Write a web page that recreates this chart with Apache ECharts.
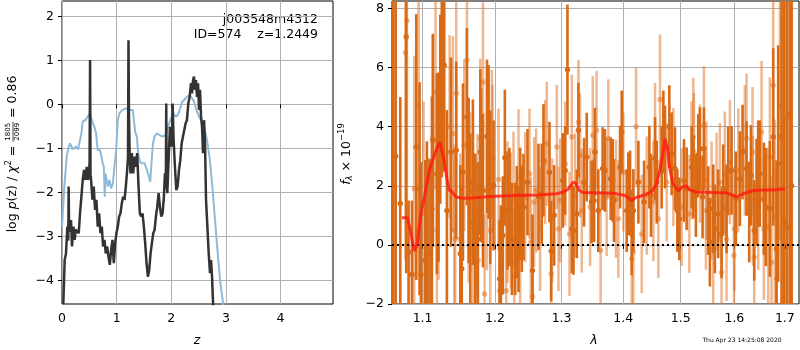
<!DOCTYPE html>
<html>
<head>
<meta charset="utf-8">
<script src="https://cdn.jsdelivr.net/npm/echarts@6/dist/echarts.min.js"></script>
<style>
  html, body { margin: 0; padding: 0; background: #fff; }
  #root { width: 800px; height: 350px; }
</style>
</head>
<body>
<div id="root"></div>
<script>
// p(z) curve (black) and chi2 curve (blue), [z, log value]
const pzPoints = [[0.024,-4.54],[0.049,-3.54],[0.073,-3.39],[0.098,-2.78],[0.115,-3.1],[0.122,-1.87],[0.130,-2.9],[0.141,-2.93],[0.155,-2.7],[0.165,-2.63],[0.183,-3.23],[0.208,-2.78],[0.232,-3.08],[0.250,-2.85],[0.269,-2.86],[0.306,-2.93],[0.330,-2.48],[0.355,-2.10],[0.379,-1.72],[0.404,-1.49],[0.428,-1.72],[0.453,-1.42],[0.477,-1.72],[0.495,-1.55],[0.505,-1.3],[0.514,1.01],[0.522,-1.6],[0.532,-1.72],[0.557,-2.17],[0.581,-1.87],[0.606,-2.40],[0.630,-2.17],[0.654,-2.78],[0.679,-2.48],[0.703,-2.93],[0.728,-2.78],[0.752,-3.23],[0.777,-3.08],[0.801,-3.39],[0.826,-3.23],[0.850,-3.46],[0.875,-3.65],[0.899,-3.31],[0.924,-3.08],[0.948,-3.61],[0.972,-3.16],[0.997,-2.93],[1.021,-2.78],[1.046,-2.55],[1.070,-2.48],[1.095,-2.25],[1.119,-2.10],[1.144,-2.17],[1.168,-1.87],[1.193,-1.49],[1.208,-1.2],[1.217,1.46],[1.226,-0.28],[1.240,-1.2],[1.254,-1.57],[1.278,-1.11],[1.303,-1.57],[1.327,-1.19],[1.352,-1.42],[1.376,-1.11],[1.401,-1.87],[1.425,-2.48],[1.450,-2.55],[1.474,-2.48],[1.498,-2.78],[1.523,-3.16],[1.547,-3.61],[1.572,-3.92],[1.596,-3.77],[1.621,-3.39],[1.645,-3.16],[1.670,-2.93],[1.694,-2.86],[1.719,-2.55],[1.743,-2.33],[1.768,-2.02],[1.792,-2.33],[1.817,-2.55],[1.841,-2.48],[1.865,-2.10],[1.884,-1.57],[1.900,-1.9],[1.908,0.02],[1.916,-1.8],[1.927,-2.02],[1.951,-1.27],[1.976,-0.51],[2.000,-0.96],[2.015,-0.6],[2.024,0.02],[2.043,-0.81],[2.067,-1.42],[2.092,-1.95],[2.116,-1.87],[2.141,-1.49],[2.165,-1.27],[2.190,-0.89],[2.214,-0.73],[2.239,-0.73],[2.263,-0.43],[2.287,-0.36],[2.312,0.02],[2.336,0.17],[2.361,0.48],[2.379,0.25],[2.398,0.55],[2.416,0.63],[2.434,0.33],[2.453,0.55],[2.471,0.17],[2.490,0.48],[2.508,-0.13],[2.526,0.33],[2.545,-0.28],[2.563,-0.51],[2.581,-1.11],[2.600,-0.36],[2.618,-0.89],[2.636,-2.17],[2.661,-2.78],[2.685,-3.39],[2.709,-3.84],[2.728,-3.54],[2.746,-3.92],[2.765,-4.52],[2.790,-5.6]];

const chiPoints = [[0.000,-2.78],[0.043,-1.87],[0.086,-1.19],[0.122,-0.96],[0.147,-0.89],[0.196,-1.02],[0.257,-0.96],[0.294,-1.02],[0.330,-0.81],[0.355,-0.66],[0.379,-0.39],[0.428,-0.36],[0.471,-0.28],[0.514,-0.20],[0.550,-0.39],[0.593,-0.51],[0.624,-0.66],[0.654,-1.04],[0.697,-1.04],[0.722,-1.08],[0.746,-1.34],[0.765,-1.42],[0.783,-2.10],[0.795,-1.57],[0.820,-1.57],[0.838,-1.87],[0.869,-1.72],[0.899,-1.91],[0.930,-1.80],[0.960,-1.83],[0.991,-1.04],[1.021,-0.36],[1.052,-0.20],[1.101,-0.13],[1.174,-0.09],[1.235,-0.13],[1.297,-0.13],[1.321,-0.43],[1.346,-0.66],[1.370,-0.73],[1.394,-1.11],[1.419,-1.27],[1.450,-1.34],[1.511,-1.34],[1.554,-1.49],[1.590,-1.64],[1.615,-1.76],[1.633,-1.42],[1.664,-0.89],[1.694,-0.73],[1.737,-0.66],[1.786,-0.70],[1.847,-0.73],[1.896,-0.70],[1.939,-0.51],[1.982,-0.36],[2.031,-0.20],[2.080,-0.28],[2.122,-0.24],[2.153,-0.13],[2.202,0.06],[2.245,0.11],[2.287,0.17],[2.336,0.21],[2.379,0.14],[2.416,0.06],[2.459,-0.13],[2.508,-0.28],[2.557,-0.39],[2.606,-0.55],[2.654,-0.81],[2.703,-1.23],[2.752,-1.87],[2.801,-2.63],[2.850,-3.39],[2.899,-4.07],[2.948,-4.52],[3.000,-5.2]];

// spectrum: [lambda, flux, error]
const darkPoints = [[1.062,2.0,12],[1.065,3.0,10],[1.0709,1.4,3.6],[1.0786,7.04,8],[1.0816,-0.25,1.75],[1.0860,-1.0,2.5],[1.0917,3.31,4.5],[1.0960,1.9,3.6],[1.0978,-1.0,3.8],[1.1035,-0.53,3.4],[1.1057,-0.3,3.8],[1.1093,-0.3,3.2],[1.1124,1.22,3.8],[1.1137,3.54,3.6],[1.1191,2.41,3.4],[1.1213,2.63,3.2],[1.1236,4.59,3.2],[1.1258,6.08,3.8],[1.1290,6.08,3.6],[1.1326,1.16,3.4],[1.1381,3.14,3.2],[1.1454,3.2,3.0],[1.1510,-0.3,3.0],[1.1530,-0.81,2.8],[1.1547,2.46,3.0],[1.1602,4.33,3.0],[1.1626,2.18,2.8],[1.1649,0.77,3.0],[1.1686,2.12,2.8],[1.1719,0.49,2.6],[1.1752,0.2,2.6],[1.1790,3.14,2.8],[1.1800,2.69,2.6],[1.1828,1.84,2.6],[1.1885,3.67,2.6],[1.1908,3.48,2.6],[1.1932,1.95,2.6],[1.1979,2.01,2.2],[1.2066,-1.15,2.0],[1.2085,-0.76,2.1],[1.2114,0.32,2.0],[1.2143,2.95,2.3],[1.2182,1.16,2.0],[1.2211,1.28,2.0],[1.2246,0.2,1.9],[1.2295,0.2,1.9],[1.2319,0.77,1.9],[1.2344,0.2,1.8],[1.2369,1.39,1.9],[1.2393,0.88,1.8],[1.2418,1.28,1.8],[1.2478,2.12,1.8],[1.2553,-0.87,1.9],[1.2644,1.62,1.8],[1.2694,1.73,1.7],[1.2720,2.86,1.9],[1.2812,2.46,1.7],[1.2838,-0.21,1.7],[1.2884,1.0,1.7],[1.3019,2.18,1.6],[1.3056,2.52,1.5],[1.3092,5.93,2.2],[1.3161,0.54,1.5],[1.3187,0.49,1.5],[1.3240,1.05,1.5],[1.3266,3.88,1.6],[1.3356,2.12,1.5],[1.3399,2.97,1.5],[1.3478,1.45,1.4],[1.3518,1.5,1.4],[1.3532,3.14,1.5],[1.3586,1.16,1.4],[1.3657,2.58,1.4],[1.3695,2.52,1.4],[1.3790,2.24,1.4],[1.3823,2.18,1.4],[1.3845,1.5,1.4],[1.3946,2.63,1.4],[1.3974,3.82,1.4],[1.4058,1.16,1.4],[1.4086,1.73,1.4],[1.4115,1.79,1.4],[1.4143,0.37,1.4],[1.4171,1.16,1.4],[1.4257,2.12,1.4],[1.4354,1.45,1.4],[1.4446,2.63,1.4],[1.4475,1.67,1.4],[1.4545,2.92,1.4],[1.4574,2.12,1.4],[1.4661,2.63,1.4],[1.4691,3.82,1.4],[1.4720,3.31,1.4],[1.4797,4.0,1.4],[1.4838,3.08,1.4],[1.4898,2.58,1.4],[1.4940,1.16,1.4],[1.4976,0.88,1.4],[1.5060,2.18,1.4],[1.5108,1.9,1.4],[1.5200,2.63,1.4],[1.5230,2.29,1.4],[1.5277,1.67,1.4],[1.5320,3.03,1.4],[1.5351,3.25,1.4],[1.5400,1.62,1.4],[1.5425,3.25,1.4],[1.5505,1.16,1.5],[1.5536,0.09,1.5],[1.5598,1.22,1.5],[1.5629,0.54,1.5],[1.5692,1.05,1.5],[1.5755,0.37,1.5],[1.5787,1.9,1.5],[1.5850,1.22,1.5],[1.5882,2.5,1.5],[1.5946,2.52,1.5],[1.6029,1.56,1.6],[1.6106,2.24,1.6],[1.6158,3.14,1.6],[1.6236,2.58,1.6],[1.6288,1.11,1.7],[1.6321,2.35,1.7],[1.6386,0.49,1.7],[1.6432,1.79,1.8],[1.6465,2.41,1.8],[1.6498,2.41,1.8],[1.6577,1.56,1.9],[1.6617,1.28,2.0],[1.6697,1.22,2.3],[1.6764,3.65,3.0],[1.6832,-0.14,3.0],[1.6865,2.75,4],[1.6933,3.65,7],[1.6980,0.77,9],[1.7048,0.6,10],[1.7103,4.44,10],[1.714,2.0,12]];

const lightPoints = [[1.0775,6.5,7],[1.0795,7.58,8],[1.0890,1.9,4.5],[1.0947,4.72,4.3],[1.1013,1.05,3.8],[1.1079,-0.64,3.6],[1.1137,3.6,3.5],[1.1173,5.18,3.3],[1.1191,0.49,3.1],[1.1213,2.12,3.3],[1.1258,5.9,3.5],[1.1363,4.0,3.1],[1.1408,3.76,3.3],[1.1427,0.49,2.9],[1.1440,0.2,2.9],[1.1454,5.13,3.1],[1.1510,0.2,2.9],[1.1565,3.37,2.9],[1.1602,6.25,3.1],[1.1626,1.62,2.9],[1.1649,1.79,2.7],[1.1686,-0.19,2.7],[1.1752,1.05,2.7],[1.1760,-0.53,2.7],[1.1790,3.6,2.7],[1.1828,5.51,2.7],[1.1851,-1.66,2.7],[1.1885,1.84,2.7],[1.1932,0.49,2.7],[1.1955,3.42,2.5],[1.1965,2.92,2.5],[1.2051,2.21,2.4],[1.2066,-1.55,2.4],[1.2163,-1.55,2.4],[1.2182,1.11,2.4],[1.2231,0.82,2.3],[1.2270,1.53,2.3],[1.2280,-1.04,2.3],[1.2344,2.29,2.3],[1.2369,0.15,2.2],[1.2443,1.62,2.2],[1.2508,2.41,2.2],[1.2528,0.09,2.2],[1.2553,-1.75,2.2],[1.2578,1.45,2.2],[1.2608,1.84,2.1],[1.2669,0.54,2.1],[1.2745,2.8,2.1],[1.2771,3.42,2.1],[1.2838,-0.98,2.1],[1.2853,0.82,2.1],[1.2926,3.31,2.1],[1.2951,0.54,2.1],[1.2977,1.5,2.1],[1.3056,2.75,2.1],[1.3124,0.37,2.1],[1.3161,3.65,2.1],[1.3213,1.67,2.1],[1.3266,4.16,2.1],[1.3293,3.03,2.1],[1.3319,1.16,2.1],[1.3453,1.28,2.0],[1.3496,3.71,2.0],[1.3559,3.88,2.0],[1.3624,-0.19,2.0],[1.3723,1.62,2.0],[1.3751,3.6,2.0],[1.3878,1.56,2.0],[1.3917,0.88,2.0],[1.4002,2.46,2.0],[1.4143,-0.47,2.0],[1.4171,-0.25,2.0],[1.4217,4.0,2.0],[1.4314,0.37,2.0],[1.4400,1.67,2.0],[1.4516,1.45,2.0],[1.4545,3.48,2.0],[1.4603,0.88,2.0],[1.4632,4.92,2.2],[1.4750,2.12,2.0],[1.4868,2.63,2.0],[1.5018,1.28,2.0],[1.5157,1.05,2.0],[1.5198,2.86,2.0],[1.5230,3.65,2.0],[1.5241,3.14,2.0],[1.5351,2.75,2.0],[1.5425,4.05,2.0],[1.5462,1.16,2.0],[1.5470,2.18,2.0],[1.5567,1.5,2.0],[1.5598,-0.14,2.0],[1.5661,1.79,2.0],[1.5723,2.12,2.0],[1.5755,-0.93,2.0],[1.5818,2.41,2.1],[1.5850,0.2,2.1],[1.5914,2.8,2.1],[1.5991,-0.36,2.1],[1.6000,0.54,2.1],[1.6074,2.52,2.1],[1.6203,3.2,2.2],[1.6236,3.6,2.2],[1.6353,3.14,2.2],[1.6360,1.5,2.2],[1.6386,-0.42,2.2],[1.6465,1.45,2.3],[1.6531,3.82,2.4],[1.6577,0.54,2.4],[1.6664,0.6,2.7],[1.6697,2.97,2.7],[1.6731,-0.59,2.9],[1.6764,5.4,3.3],[1.6798,0.94,3.3],[1.6832,-1.15,3.8],[1.6899,4.67,4.5],[1.7035,4.27,6.5]];

// best-fit model (red), [lambda, flux]
const modelPoints = [[1.073,0.92],[1.080,0.92],[1.085,0.37],[1.089,-0.21],[1.093,0.03],[1.097,0.94],[1.104,1.84],[1.109,2.52],[1.117,3.14],[1.123,3.48],[1.128,2.97],[1.133,2.18],[1.136,1.84],[1.139,1.82],[1.145,1.62],[1.155,1.58],[1.169,1.59],[1.193,1.64],[1.227,1.67],[1.262,1.69],[1.292,1.73],[1.303,1.79],[1.311,1.90],[1.318,2.12],[1.322,2.09],[1.328,1.84],[1.334,1.77],[1.356,1.76],[1.383,1.75],[1.403,1.67],[1.414,1.50],[1.423,1.62],[1.434,1.67],[1.448,1.79],[1.456,2.01],[1.463,2.52],[1.469,3.20],[1.472,3.59],[1.476,3.31],[1.480,2.63],[1.486,2.07],[1.496,1.82],[1.502,1.95],[1.510,2.00],[1.516,1.86],[1.529,1.79],[1.560,1.77],[1.585,1.76],[1.598,1.67],[1.604,1.62],[1.617,1.73],[1.637,1.84],[1.657,1.86],[1.677,1.86],[1.700,1.90]];

const zTicks = [0, 1, 2, 3, 4];
const pzTicks = [-4, -3, -2, -1, 0, 1, 2];
const lamTicks = [1.1, 1.2, 1.3, 1.4, 1.5, 1.6, 1.7];
const fluxTicks = [-2, 0, 2, 4, 6, 8];

const FONT = '"DejaVu Sans"';
const fs = 12.5;
const log10 = Math.log10;
const minus = v => String(v).replace('-', '\u2212');

const chart = echarts.init(document.getElementById('root'));

// wavelength axis is log-scaled: plot log10(lambda) on a value axis
const lamX = pts => pts.map(p => [log10(p[0])].concat(p.slice(1)));

function errorBars(color, lw, r) {
  return function (params, api) {
    const x = api.value(0), y = api.value(1), e = api.value(2);
    const p0 = api.coord([x, y - e]);
    const p1 = api.coord([x, y + e]);
    const c = api.coord([x, y]);
    return {
      type: 'group',
      children: [
        { type: 'line', shape: { x1: p0[0], y1: p0[1], x2: p1[0], y2: p1[1] }, style: { stroke: color, lineWidth: lw } },
        { type: 'circle', shape: { cx: c[0], cy: c[1], r: r }, style: { fill: color } }
      ]
    };
  };
}

function axisCommon(ticks, fmt) {
  return {
    axisLine: { show: false },
    axisTick: { show: true, customValues: ticks, length: 4, lineStyle: { color: '#000' } },
    axisLabel: { customValues: ticks, margin: 8, color: '#000', fontFamily: FONT, fontSize: fs, formatter: fmt },
    splitLine: { show: true, lineStyle: { color: '#b0b0b0', width: 1 } }
  };
}

// text pieces laid out along a rotated baseline
const ctx = document.createElement('canvas').getContext('2d');
function measure(t, font) { ctx.font = font; return ctx.measureText(t).width; }
const fN = fs + 'px ' + FONT;
const fI = 'italic ' + fN;
const fS = '8.5px ' + FONT;
const fSI = 'italic 8.5px ' + FONT;
const fF = '7px ' + FONT;

function rotatedLabel(cx, cy, parts) {
  let x = 0;
  const kids = [];
  parts.forEach(p => {
    if (p.frac) {
      const w = Math.max(measure(p.frac[0], fF), measure(p.frac[1], fF)) + 2;
      kids.push({ type: 'text', x: x + w / 2, y: -4.5, style: { text: p.frac[0], font: fF, fill: '#000', textAlign: 'center', textVerticalAlign: 'middle' } });
      kids.push({ type: 'text', x: x + w / 2, y: 4.5, style: { text: p.frac[1], font: fF, fill: '#000', textAlign: 'center', textVerticalAlign: 'middle' } });
      kids.push({ type: 'line', shape: { x1: x, y1: 0, x2: x + w, y2: 0 }, style: { stroke: '#000', lineWidth: 0.7 } });
      x += w;
    } else {
      kids.push({ type: 'text', x: x, y: p.dy || 0, style: { text: p.t, font: p.f, fill: '#000', textAlign: 'left', textVerticalAlign: 'middle' } });
      x += measure(p.t, p.f);
    }
  });
  kids.forEach(k => {
    if (k.type === 'line') { k.shape.x1 -= x / 2; k.shape.x2 -= x / 2; } else { k.x -= x / 2; }
  });
  return { type: 'group', x: cx, y: cy, rotation: Math.PI / 2, children: kids };
}

const pzLabel = rotatedLabel(13, 154, [
  { t: 'log ', f: fN }, { t: 'p', f: fI }, { t: '(z) / ', f: fN }, { t: '\u03c7', f: fI },
  { t: '2', f: fS, dy: -4 }, { t: ' = ', f: fN }, { frac: ['1805', '2099'] }, { t: ' = 0.86', f: fN }
]);
const fluxLabel = rotatedLabel(347, 154, [
  { t: 'f', f: fI }, { t: '\u03bb', f: fSI, dy: 3 }, { t: ' \u00d7 10', f: fN }, { t: '\u221219', f: fS, dy: -5 }
]);

function text(x, y, t, font, align) {
  return { type: 'text', x: x, y: y, style: { text: t, font: font, fill: '#000', textAlign: align, textVerticalAlign: 'middle' } };
}

chart.setOption({
  animation: false,
  grid: [
    { left: 62, top: 1, width: 271, height: 303, show: true, borderColor: '#000', borderWidth: 1 },
    { left: 392, top: 1, width: 407, height: 303, show: true, borderColor: '#000', borderWidth: 1 }
  ],
  xAxis: [
    Object.assign({ gridIndex: 0, type: 'value', min: 0, max: 4.96 }, axisCommon(zTicks, v => v)),
    Object.assign({ gridIndex: 1, type: 'value', min: log10(1.0603), max: log10(1.7292) },
      axisCommon(lamTicks.map(log10), v => Math.pow(10, v).toFixed(1)))
  ],
  yAxis: [
    Object.assign({ gridIndex: 0, type: 'value', min: -4.54, max: 2.35 }, axisCommon(pzTicks, minus)),
    Object.assign({ gridIndex: 1, type: 'value', min: -2, max: 8.25 }, axisCommon(fluxTicks, minus))
  ],
  series: [
    {
      type: 'line', xAxisIndex: 0, yAxisIndex: 0, data: chiPoints, showSymbol: false, clip: true,
      lineStyle: { color: '#8ebad9', width: 2 }, z: 3
    },
    {
      type: 'line', xAxisIndex: 0, yAxisIndex: 0, data: pzPoints, showSymbol: false, clip: true,
      lineStyle: { color: '#333333', width: 2.5 }, z: 4
    },
    {
      type: 'custom', xAxisIndex: 1, yAxisIndex: 1, data: lamX(lightPoints), clip: true,
      renderItem: errorBars('rgba(226,112,30,0.5)', 2.5, 2.7), z: 3
    },
    {
      type: 'custom', xAxisIndex: 1, yAxisIndex: 1, data: lamX(darkPoints), clip: true,
      renderItem: errorBars('#d96a16', 2.6, 2.7), z: 4
    },
    {
      type: 'line', xAxisIndex: 1, yAxisIndex: 1, data: lamX(modelPoints), showSymbol: false, clip: true,
      lineStyle: { color: 'rgba(255,25,15,0.8)', width: 3 }, z: 5,
      markLine: {
        silent: true, symbol: 'none', label: { show: false },
        lineStyle: { color: '#000', type: [2, 3], width: 2 },
        data: [{ yAxis: 0 }]
      }
    }
  ],
  graphic: [
    text(318, 20, 'j003548m4312', fN, 'right'),
    text(318, 35, 'ID=574    z=1.2449', fN, 'right'),
    text(197, 341, 'z', fI, 'center'),
    text(594, 341, '\u03bb', fI, 'center'),
    text(742, 340, 'Thu Apr 23 14:25:08 2020', '6px ' + FONT, 'center'),
    pzLabel,
    fluxLabel
  ]
});
</script>
</body>
</html>
